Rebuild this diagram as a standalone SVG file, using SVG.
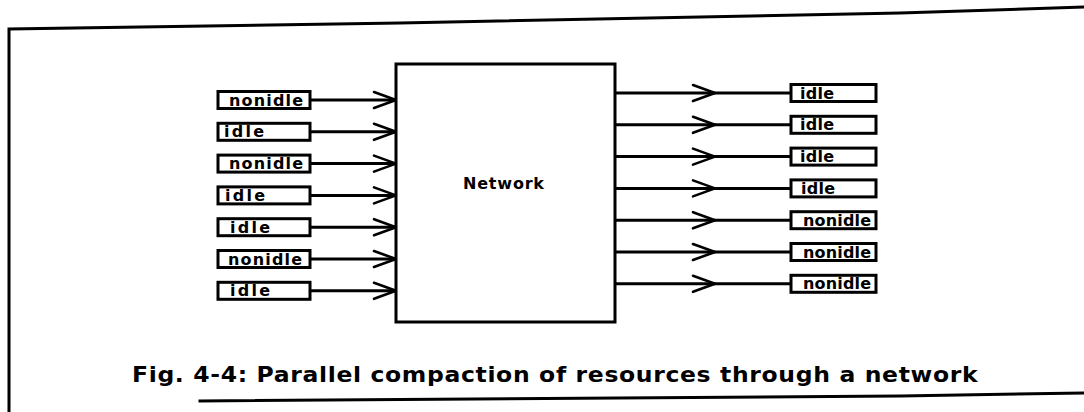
<svg xmlns="http://www.w3.org/2000/svg" width="1084" height="412" viewBox="0 0 1084 412">
  <style>
    .frame { fill: none; stroke: #000; stroke-width: 3; stroke-linecap: square; }
    .box { fill: #fff; stroke: #000; stroke-width: 3; }
    .net { fill: #fff; stroke: #000; stroke-width: 3; }
    .wire { fill: none; stroke: #000; stroke-width: 3; }
    .lbl { font-family: "DejaVu Sans", "Liberation Sans", sans-serif; font-weight: bold; font-size: 16px; fill: #000; }
    .title { font-family: "DejaVu Sans", "Liberation Sans", sans-serif; font-weight: bold; font-size: 16px; fill: #000; }
    .cap { font-family: "DejaVu Sans", "Liberation Sans", sans-serif; font-weight: bold; font-size: 21px; fill: #000; }
  </style>
  <defs>
    <!-- open V arrowhead -->
    <marker id="vee" viewBox="-26 -12 30 24" refX="0" refY="0" markerWidth="30" markerHeight="24" markerUnits="userSpaceOnUse" orient="auto">
      <path d="M-22,-8 L0,0 L-22,8" fill="none" stroke="#000" stroke-width="2.6" stroke-linejoin="round" stroke-linecap="round"/>
    </marker>
  </defs>

  <rect width="1084" height="412" fill="#fff"/>

  <!-- page frame -->
  <path class="frame" d="M9,412 L9,29 L400,23 L900,13 L1084,7"/>
  <path class="frame" d="M200,401 L900,396 L1084,393"/>

  <!-- connectors -->
  <g id="connectors">
    <path class="wire" d="M310,100 L396,100" marker-end="url(#vee)"/>
    <path class="wire" d="M310,131.8 L396,131.8" marker-end="url(#vee)"/>
    <path class="wire" d="M310,163.6 L396,163.6" marker-end="url(#vee)"/>
    <path class="wire" d="M310,195.4 L396,195.4" marker-end="url(#vee)"/>
    <path class="wire" d="M310,227.2 L396,227.2" marker-end="url(#vee)"/>
    <path class="wire" d="M310,259 L396,259" marker-end="url(#vee)"/>
    <path class="wire" d="M310,290.8 L396,290.8" marker-end="url(#vee)"/>

    <path class="wire" d="M615,93 L715,93 L791,93" marker-mid="url(#vee)"/>
    <path class="wire" d="M615,124.8 L715,124.8 L791,124.8" marker-mid="url(#vee)"/>
    <path class="wire" d="M615,156.6 L715,156.6 L791,156.6" marker-mid="url(#vee)"/>
    <path class="wire" d="M615,188.4 L715,188.4 L791,188.4" marker-mid="url(#vee)"/>
    <path class="wire" d="M615,220.2 L715,220.2 L791,220.2" marker-mid="url(#vee)"/>
    <path class="wire" d="M615,252 L715,252 L791,252" marker-mid="url(#vee)"/>
    <path class="wire" d="M615,283.8 L715,283.8 L791,283.8" marker-mid="url(#vee)"/>
  </g>

  <!-- network block -->
  <g id="network">
    <rect class="net" x="396" y="64" width="219" height="258"/>
    <text class="title" x="463" y="189" textLength="81" lengthAdjust="spacing">Network</text>
  </g>

  <!-- input resources -->
  <g id="in1"><rect class="box" x="218" y="91.5" width="92" height="17"/><text class="lbl" x="229" y="105.5" textLength="74" lengthAdjust="spacing">nonidle</text></g>
  <g id="in2"><rect class="box" x="218" y="123.3" width="92" height="17"/><text class="lbl" x="224" y="137.3" textLength="40" lengthAdjust="spacing">idle</text></g>
  <g id="in3"><rect class="box" x="218" y="155.1" width="92" height="17"/><text class="lbl" x="229" y="169.1" textLength="74" lengthAdjust="spacing">nonidle</text></g>
  <g id="in4"><rect class="box" x="218" y="186.9" width="92" height="17"/><text class="lbl" x="225" y="200.9" textLength="40" lengthAdjust="spacing">idle</text></g>
  <g id="in5"><rect class="box" x="218" y="218.7" width="92" height="17"/><text class="lbl" x="230" y="232.7" textLength="40" lengthAdjust="spacing">idle</text></g>
  <g id="in6"><rect class="box" x="218" y="250.5" width="92" height="17"/><text class="lbl" x="228" y="264.5" textLength="74" lengthAdjust="spacing">nonidle</text></g>
  <g id="in7"><rect class="box" x="218" y="282.3" width="92" height="17"/><text class="lbl" x="230" y="296.3" textLength="40" lengthAdjust="spacing">idle</text></g>

  <!-- output resources -->
  <g id="out1"><rect class="box" x="791" y="84.5" width="85" height="17"/><text class="lbl" x="800" y="98.5" textLength="34" lengthAdjust="spacing">idle</text></g>
  <g id="out2"><rect class="box" x="791" y="116.3" width="85" height="17"/><text class="lbl" x="800" y="130.3" textLength="34" lengthAdjust="spacing">idle</text></g>
  <g id="out3"><rect class="box" x="791" y="148.1" width="85" height="17"/><text class="lbl" x="800" y="162.1" textLength="34" lengthAdjust="spacing">idle</text></g>
  <g id="out4"><rect class="box" x="791" y="179.9" width="85" height="17"/><text class="lbl" x="801" y="193.9" textLength="34" lengthAdjust="spacing">idle</text></g>
  <g id="out5"><rect class="box" x="791" y="211.7" width="85" height="17"/><text class="lbl" x="803" y="225.7" textLength="68" lengthAdjust="spacing">nonidle</text></g>
  <g id="out6"><rect class="box" x="791" y="243.5" width="85" height="17"/><text class="lbl" x="803" y="257.5" textLength="68" lengthAdjust="spacing">nonidle</text></g>
  <g id="out7"><rect class="box" x="791" y="275.3" width="85" height="17"/><text class="lbl" x="803" y="289.3" textLength="68" lengthAdjust="spacing">nonidle</text></g>

  <!-- caption, slightly widened glyphs -->
  <g transform="translate(132,382) scale(1.12,1)">
    <text class="cap" x="0" y="0" textLength="755" lengthAdjust="spacing">Fig. 4-4:  Parallel compaction of resources through a network</text>
  </g>
</svg>
